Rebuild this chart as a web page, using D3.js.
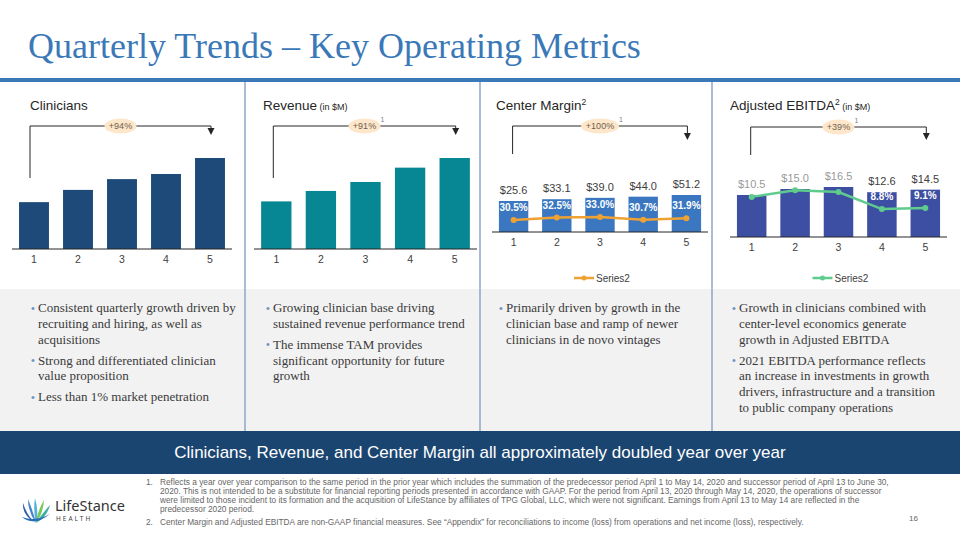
<!DOCTYPE html>
<html>
<head>
<meta charset="utf-8">
<script src="https://cdn.jsdelivr.net/npm/d3@7"></script>
<style>
  body { margin: 0; background: #fff; }
  svg { display: block; }
</style>
</head>
<body>
<main></main>
<script>
// ---- data ----
const quarters = ['1', '2', '3', '4', '5'];

const clinicians = [2474, 3120, 3690, 3960, 4804];
const revenue = [83.4, 101.7, 117.4, 142.5, 159.4];

const centerMargin = [25.6, 33.1, 39.0, 44.0, 51.2];
const centerMarginPct = [30.5, 32.5, 33.0, 30.7, 31.9];

const ebitda = [10.5, 15.0, 16.5, 12.6, 14.5];
const ebitdaPct = [12.6, 14.7, 14.1, 8.8, 9.1];
const ebitdaPctShown = [false, false, false, true, true];

const growthLabels = ['+94%', '+91%', '+100%', '+39%'];

const bullets = [
  [
    ['Consistent quarterly growth driven by', 'recruiting and hiring, as well as', 'acquisitions'],
    ['Strong and differentiated clinician', 'value proposition'],
    ['Less than 1% market penetration'],
  ],
  [
    ['Growing clinician base driving', 'sustained revenue performance trend'],
    ['The immense TAM provides', 'significant opportunity for future', 'growth'],
  ],
  [
    ['Primarily driven by growth in the', 'clinician base and ramp of newer', 'clinicians in de novo vintages'],
  ],
  [
    ['Growth in clinicians combined with', 'center-level economics generate', 'growth in Adjusted EBITDA'],
    ['2021 EBITDA performance reflects', 'an increase in investments in growth', 'drivers, infrastructure and a transition', 'to public company operations'],
  ],
];

const footnote1 = [
  'Reflects a year over year comparison to the same period in the prior year which includes the summation of the predecessor period April 1 to May 14, 2020 and successor period of April 13 to June 30,',
  '2020. This is not intended to be a substitute for financial reporting periods presented in accordance with GAAP. For the period from April 13, 2020 through May 14, 2020, the operations of successor',
  'were limited to those incident to its formation and the acquisition of LifeStance by affiliates of TPG Global, LLC, which were not significant. Earnings from April 13 to May 14 are reflected in the',
  'predecessor 2020 period.',
];
const footnote2 =
  'Center Margin and Adjusted EBITDA are non-GAAP financial measures. See \u201CAppendix\u201D for reconciliations to income (loss) from operations and net income (loss), respectively.';

// ---- page ----
const SANS = '"Liberation Sans", Arial, sans-serif';
const SERIF = '"Liberation Serif", "Times New Roman", serif';

const svg = d3
  .select('main')
  .append('svg')
  .attr('width', 960)
  .attr('height', 540);

svg.append('rect').attr('width', 960).attr('height', 540).attr('fill', '#fff');

// bullet band
svg
  .append('rect')
  .attr('x', 0)
  .attr('y', 289)
  .attr('width', 960)
  .attr('height', 142)
  .attr('fill', '#f2f2f2');

// title
svg
  .append('text')
  .attr('x', 28)
  .attr('y', 58)
  .attr('font-family', SERIF)
  .attr('font-size', 36)
  .attr('fill', '#3b78b8')
  .text('Quarterly Trends \u2013 Key Operating Metrics');

svg
  .append('rect')
  .attr('x', 0)
  .attr('y', 78)
  .attr('width', 960)
  .attr('height', 4)
  .attr('fill', '#3b78b8');

// column dividers
[245, 480, 712].forEach(x => {
  svg
    .append('line')
    .attr('x1', x)
    .attr('x2', x)
    .attr('y1', 82)
    .attr('y2', 431)
    .attr('stroke', '#8ea6c8')
    .attr('stroke-width', 1.5);
});

// ---- panels ----
const panels = [
  {
    title: 'Clinicians',
    titleX: 30,
    range: [12, 232],
    base: 249,
    values: clinicians,
    yDomain: [0, 4804],
    yRange: [249, 158],
    color: '#1d4a78',
    bracketShift: -4,
    bracketLeftBottom: 178,
    bracketTop: 126,
    arrowTip: 135,
    growth: growthLabels[0],
    note: false,
  },
  {
    title: 'Revenue',
    sub: ' (in $M)',
    titleX: 263,
    range: [254, 477],
    base: 249,
    values: revenue,
    yDomain: [0, 159.4],
    yRange: [249, 158],
    color: '#078693',
    bracketShift: -3,
    bracketLeftBottom: 178,
    bracketTop: 126,
    arrowTip: 135,
    growth: growthLabels[1],
    note: true,
  },
  {
    title: 'Center Margin',
    sup: '2',
    titleX: 496,
    range: [492, 708],
    base: 232,
    values: centerMargin,
    // bars sit on a truncated axis in the original
    yDomain: [-107, 51.2],
    yRange: [232, 195],
    color: '#3a77c0',
    barLabel: d => `$${d.toFixed(1)}`,
    line: centerMarginPct,
    lineDomain: [0, 40],
    lineRange: [256.6, 208.6],
    lineColor: '#eea233',
    lineShown: [true, true, true, true, true],
    bracketShift: -1,
    bracketLeftBottom: 154,
    bracketTop: 126,
    arrowTip: 140,
    growth: growthLabels[2],
    note: true,
  },
  {
    title: 'Adjusted EBITDA',
    sup: '2',
    sub: ' (in $M)',
    titleX: 730,
    range: [730, 947],
    base: 237,
    values: ebitda,
    yDomain: [-21, 16.5],
    yRange: [237, 187],
    color: '#3d4fa2',
    barLabel: d => `$${d.toFixed(1)}`,
    dimLabels: [true, true, true, false, false],
    line: ebitdaPct,
    lineDomain: [0, 15],
    lineRange: [237.2, 189.2],
    lineColor: '#5fcb8c',
    lineShown: ebitdaPctShown,
    bracketShift: -1,
    bracketLeftBottom: 155,
    bracketTop: 127,
    arrowTip: 140,
    growth: growthLabels[3],
    note: true,
  },
];

panels.forEach(p => {
  const g = svg.append('g');

  // heading
  const title = g
    .append('text')
    .attr('x', p.titleX)
    .attr('y', 110)
    .attr('font-family', SANS)
    .attr('font-size', 13.5)
    .attr('fill', '#262626')
    .text(p.title);
  if (p.sup) {
    title
      .append('tspan')
      .attr('font-size', 8.5)
      .attr('dy', -5)
      .text(p.sup);
  }
  if (p.sub) {
    title
      .append('tspan')
      .attr('font-size', 9)
      .attr('dy', p.sup ? 5 : 0)
      .text(p.sub);
  }

  const xScale = d3
    .scaleBand()
    .domain(quarters)
    .range(p.range)
    .paddingInner(0.32)
    .paddingOuter(0.16);

  const yScale = d3.scaleLinear().domain(p.yDomain).range(p.yRange);
  const cx = i => xScale(quarters[i]) + xScale.bandwidth() / 2;

  // bars
  g.selectAll('rect.bar')
    .data(p.values)
    .join('rect')
    .attr('class', 'bar')
    .attr('x', (d, i) => xScale(quarters[i]))
    .attr('width', xScale.bandwidth())
    .attr('y', d => yScale(d))
    .attr('height', d => p.base - yScale(d))
    .attr('fill', p.color);

  // x axis
  const xAxis = d3.axisBottom(xScale).tickSize(0).tickPadding(7);
  const axisG = g
    .append('g')
    .attr('transform', `translate(0 ${p.base})`)
    .call(xAxis);
  axisG.select('path').remove();
  axisG
    .selectAll('text')
    .attr('font-family', SANS)
    .attr('font-size', 10.5)
    .attr('fill', '#404040');
  g.append('line')
    .attr('x1', p.range[0])
    .attr('x2', p.range[1])
    .attr('y1', p.base)
    .attr('y2', p.base)
    .attr('stroke', '#262626')
    .attr('stroke-width', 1);

  // value labels on top of bars
  if (p.barLabel) {
    g.selectAll('text.val')
      .data(p.values)
      .join('text')
      .attr('class', 'val')
      .attr('x', (d, i) => cx(i))
      .attr('y', d => yScale(d) - 7)
      .attr('text-anchor', 'middle')
      .attr('font-family', SANS)
      .attr('font-size', 11)
      .attr('fill', (d, i) => (p.dimLabels && p.dimLabels[i] ? '#9a9a9a' : '#404040'))
      .attr('stroke', (d, i) => (p.dimLabels && p.dimLabels[i] ? '#fff' : 'none'))
      .attr('stroke-width', 0.5)
      .attr('paint-order', 'stroke')
      .text(d => p.barLabel(d));
  }

  // margin line
  if (p.line) {
    const lScale = d3.scaleLinear().domain(p.lineDomain).range(p.lineRange);
    const lineGen = d3
      .line()
      .x((d, i) => cx(i))
      .y(d => lScale(d));
    g.append('path')
      .attr('d', lineGen(p.line))
      .attr('fill', 'none')
      .attr('stroke', p.lineColor)
      .attr('stroke-width', 2.5);
    g.selectAll('circle.pt')
      .data(p.line)
      .join('circle')
      .attr('class', 'pt')
      .attr('cx', (d, i) => cx(i))
      .attr('cy', d => lScale(d))
      .attr('r', 3)
      .attr('fill', p.lineColor);
    const shown = p.line.map((d, i) => ({ d, i })).filter(o => p.lineShown[o.i]);
    g.selectAll('text.pct')
      .data(shown)
      .join('text')
      .attr('class', 'pct')
      .attr('x', o => cx(o.i))
      .attr('y', o => lScale(o.d) - 9)
      .attr('text-anchor', 'middle')
      .attr('font-family', SANS)
      .attr('font-size', 10)
      .attr('font-weight', 'bold')
      .attr('fill', '#fff')
      .text(o => `${o.d.toFixed(1)}%`);

    // legend
    const lx = cx(2) - 6;
    const ly = 278;
    g.append('line')
      .attr('x1', lx - 20)
      .attr('x2', lx)
      .attr('y1', ly)
      .attr('y2', ly)
      .attr('stroke', p.lineColor)
      .attr('stroke-width', 2.5);
    g.append('circle')
      .attr('cx', lx - 10)
      .attr('cy', ly)
      .attr('r', 2.5)
      .attr('fill', p.lineColor);
    g.append('text')
      .attr('x', lx + 2)
      .attr('y', ly + 3.5)
      .attr('font-family', SANS)
      .attr('font-size', 10)
      .attr('fill', '#404040')
      .text('Series2');
  }

  // growth bracket
  const x0 = cx(0) + p.bracketShift;
  const x1 = cx(4) + 1;
  g.append('path')
    .attr('d', `M${x0},${p.bracketLeftBottom} V${p.bracketTop} H${x1} V${p.arrowTip - 6}`)
    .attr('fill', 'none')
    .attr('stroke', '#262626')
    .attr('stroke-width', 1);
  g.append('path')
    .attr('d', `M${x1 - 3.5},${p.arrowTip - 7} L${x1 + 3.5},${p.arrowTip - 7} L${x1},${p.arrowTip} Z`)
    .attr('fill', '#262626');

  const mx = (x0 + x1) / 2;
  const rx = p.growth.length > 4 ? 19 : 16;
  g.append('ellipse')
    .attr('cx', mx)
    .attr('cy', p.bracketTop)
    .attr('rx', rx)
    .attr('ry', 7.5)
    .attr('fill', '#fde6c9');
  g.append('text')
    .attr('x', mx)
    .attr('y', p.bracketTop + 3.2)
    .attr('text-anchor', 'middle')
    .attr('font-family', SANS)
    .attr('font-size', 9)
    .attr('fill', '#6e5f50')
    .text(p.growth);
  if (p.note) {
    g.append('text')
      .attr('x', mx + rx)
      .attr('y', p.bracketTop - 4)
      .attr('font-family', SANS)
      .attr('font-size', 7)
      .attr('fill', '#7f7f7f')
      .text('1');
  }
});

// ---- bullets ----
const bulletX = [38, 273, 506, 739];
bullets.forEach((col, c) => {
  let y = 312;
  col.forEach(par => {
    svg
      .append('text')
      .attr('x', bulletX[c] - 7)
      .attr('y', y - 0.5)
      .attr('font-family', SANS)
      .attr('font-size', 11)
      .attr('fill', '#6f93c4')
      .text('\u2022');
    par.forEach(line => {
      svg
        .append('text')
        .attr('x', bulletX[c])
        .attr('y', y)
        .attr('font-family', SERIF)
        .attr('font-size', 13)
        .attr('fill', '#3a3a3a')
        .text(line);
      y += 15.8;
    });
    y += 5.2;
  });
});

// ---- banner ----
svg
  .append('rect')
  .attr('x', 0)
  .attr('y', 431)
  .attr('width', 960)
  .attr('height', 43)
  .attr('fill', '#1b4571');
svg
  .append('text')
  .attr('x', 480)
  .attr('y', 458)
  .attr('text-anchor', 'middle')
  .attr('font-family', SANS)
  .attr('font-size', 17)
  .attr('fill', '#fff')
  .text('Clinicians, Revenue, and Center Margin all approximately doubled year over year');

// ---- footnotes ----
const fn = svg
  .append('g')
  .attr('font-family', SANS)
  .attr('font-size', 8.3)
  .attr('fill', '#666');
fn.append('text').attr('x', 146).attr('y', 485).text('1.');
footnote1.forEach((line, i) => {
  fn.append('text')
    .attr('x', 160)
    .attr('y', 485 + i * 9)
    .text(line);
});
fn.append('text').attr('x', 146).attr('y', 525).text('2.');
fn.append('text').attr('x', 160).attr('y', 525).text(footnote2);
fn.append('text')
  .attr('x', 918)
  .attr('y', 521)
  .attr('text-anchor', 'end')
  .attr('font-size', 8)
  .text('16');

// ---- logo ----
const logo = svg.append('g');
const leaves = [
  { tip: [23, 503], c: [25, 516], color: '#1f4f9c' },
  { tip: [28, 499], c: [31, 512], color: '#2e78c4' },
  { tip: [35, 498], c: [36, 510], color: '#41a7d9' },
  { tip: [44, 500], c: [40, 512], color: '#6cc24a' },
  { tip: [50, 505], c: [44, 515], color: '#27a3a0' },
];
const base = [36, 523];
leaves.forEach(l => {
  logo
    .append('path')
    .attr(
      'd',
      `M${base[0]},${base[1]} Q${l.c[0] - 3},${l.c[1]} ${l.tip[0]},${l.tip[1]} Q${l.c[0] + 3},${l.c[1] + 2} ${base[0]},${base[1]} Z`
    )
    .attr('fill', l.color)
    .attr('opacity', 0.9);
});
logo
  .append('path')
  .attr('d', 'M22,517 Q34,527 50,514 Q36,522 22,517 Z')
  .attr('fill', '#2b6cb8');
logo
  .append('text')
  .attr('x', 55)
  .attr('y', 511)
  .attr('font-family', '"Noto Sans", sans-serif')
  .attr('font-size', 14.5)
  .attr('fill', '#333')
  .text('LifeStance');
logo
  .append('text')
  .attr('x', 56)
  .attr('y', 521)
  .attr('font-family', '"Noto Sans", sans-serif')
  .attr('font-size', 6.5)
  .attr('letter-spacing', 2)
  .attr('fill', '#444')
  .text('HEALTH');
</script>
</body>
</html>
